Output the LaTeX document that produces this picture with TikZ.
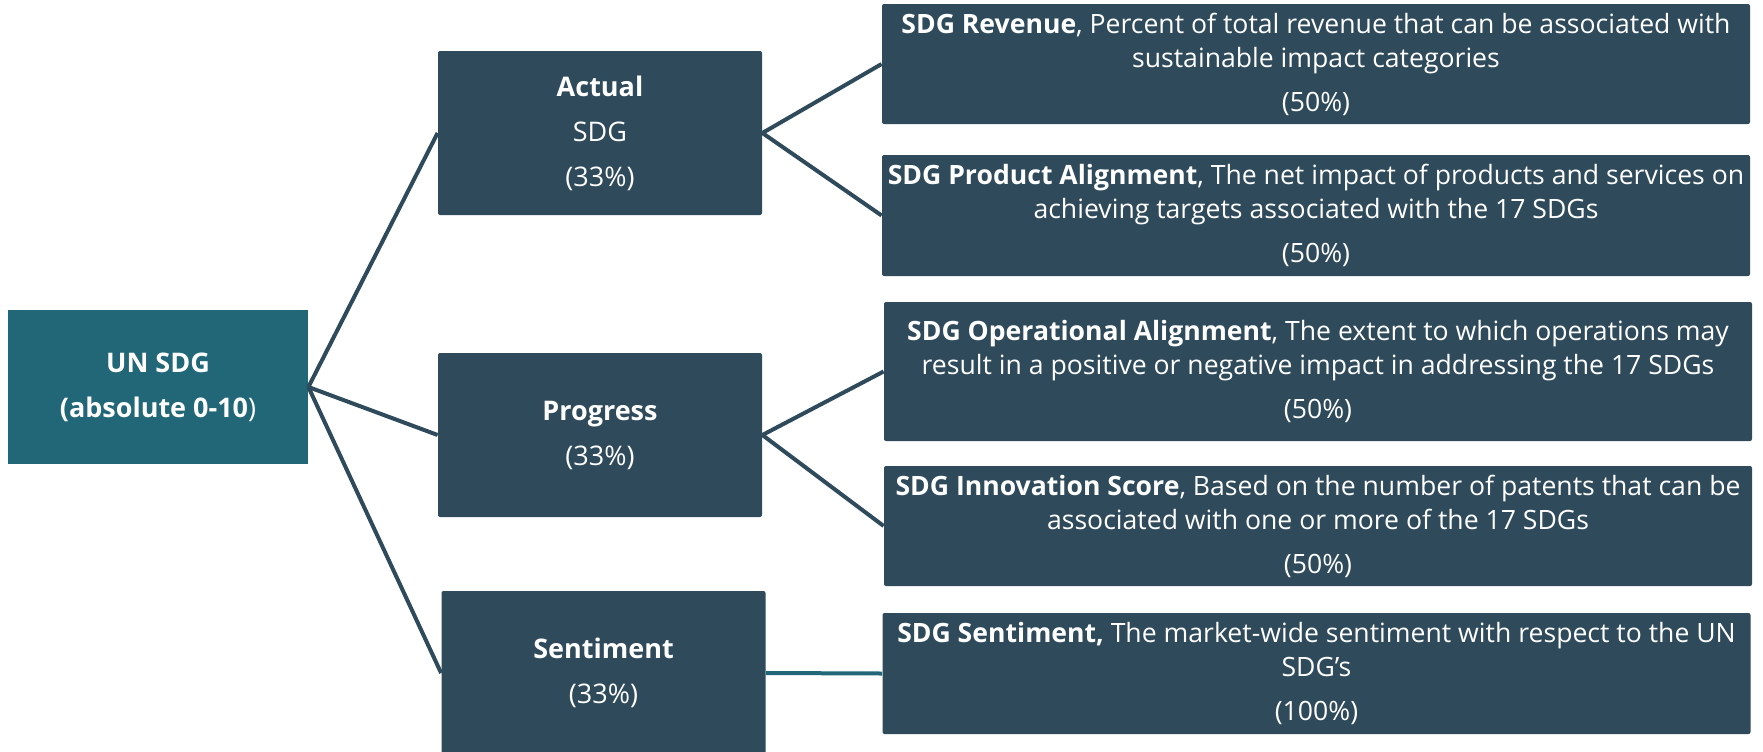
\documentclass[tikz,border=0pt]{standalone}
\usepackage{fontspec}
\setmainfont{Open Sans}
\definecolor{sdgteal}{HTML}{216778}
\definecolor{sdgnavy}{HTML}{2E4A5B}
\begin{document}
\begin{tikzpicture}[x=0.5pt,y=-0.5pt]
        \tikzstyle{block} = [rectangle, rounded corners=1pt, text=white, align=center, fill=sdgnavy, inner sep=0pt]
        \tikzstyle{mid} = [block, minimum width=162pt, minimum height=82pt, font=\fontsize{13.5}{22.5}\selectfont]
        \tikzstyle{leaf} = [block, minimum width=434pt, font=\fontsize{13.3}{17}\selectfont]
        \tikzstyle{line} = [draw=sdgnavy, line width=2pt]
        \useasboundingbox (0,0) rectangle (1763,751);
        \clip (0,0) rectangle (1763,751);
        % root
        \node[block,rounded corners=0pt,fill=sdgteal,minimum width=150pt,minimum height=77pt,font=\fontsize{13.5}{22.5}\selectfont] (root) at (158,387) {\textbf{UN SDG}\\\textbf{(absolute 0-10})};
        % pillars
        \node[mid] (actual) at (600,133) {\textbf{Actual}\\SDG\\(33\%)};
        \node[mid] (progress) at (600,435) {\textbf{Progress}\\(33\%)};
        \node[mid] (sentiment) at (603.5,673) {\textbf{Sentiment}\\(33\%)};
        % indicators
        \node[leaf,minimum height=60pt] (revenue) at (1316,64) {\textbf{SDG Revenue}, Percent of total revenue that can be associated with\\sustainable impact categories\\[5pt](50\%)};
        \node[leaf,minimum height=60.5pt] (product) at (1316,215.5) {\textbf{SDG Product Alignment}, The net impact of products and services on\\achieving targets associated with the 17 SDGs\\[5pt](50\%)};
        \node[leaf,minimum height=69.5pt] (operational) at (1318,371.5) {\textbf{SDG Operational Alignment}, The extent to which operations may\\result in a positive or negative impact in addressing the 17 SDGs\\[5pt](50\%)};
        \node[leaf,minimum height=60pt] (innovation) at (1318,526) {\textbf{SDG Innovation Score}, Based on the number of patents that can be\\associated with one or more of the 17 SDGs\\[5pt](50\%)};
        \node[leaf,minimum height=60.5pt] (sdgsent) at (1316.5,673.5) {\textbf{SDG Sentiment,} The market-wide sentiment with respect to the UN\\SDG’s\\[5pt](100\%)};
        \draw[line] (root.east) to (actual.west);
        \draw[line] (root.east) to (progress.west);
        \draw[line] (root.east) to (sentiment.west);
        \draw[line] (actual.east) to (revenue.west);
        \draw[line] (actual.east) to (product.west);
        \draw[line] (progress.east) to (operational.west);
        \draw[line] (progress.east) to (innovation.west);
        \draw[line,draw=sdgteal] (sentiment.east) to (sdgsent.west);
    \end{tikzpicture}
\end{document}
